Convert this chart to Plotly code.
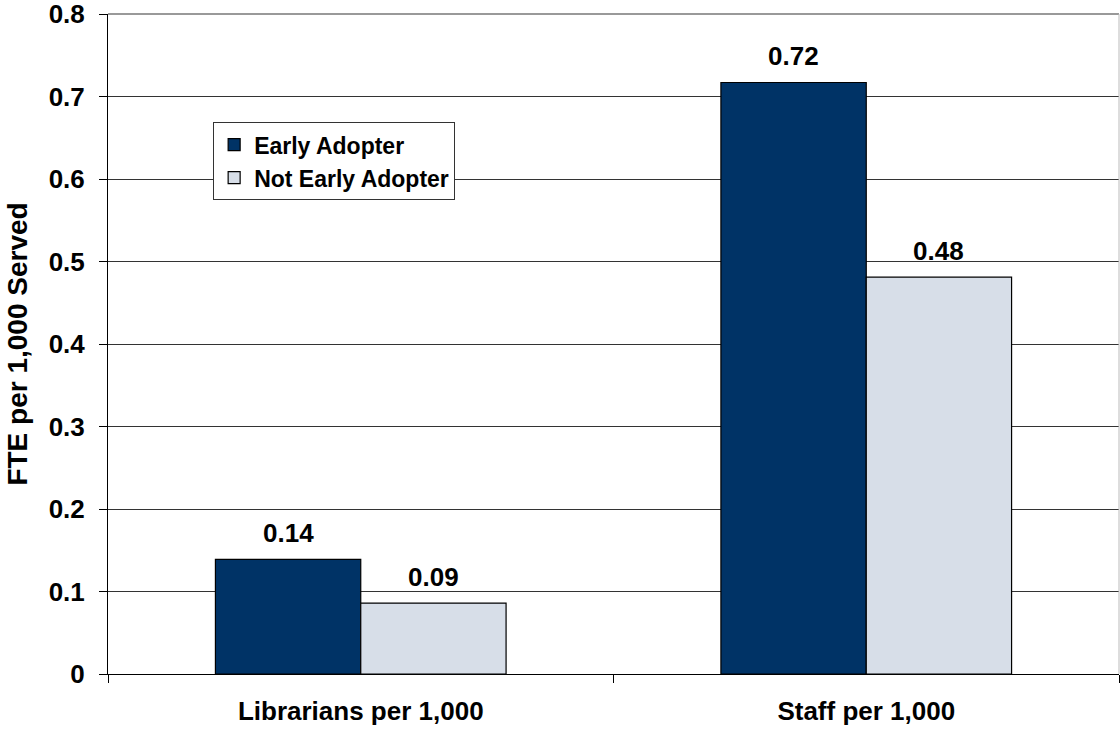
import plotly.graph_objects as go

categories = ["Librarians per 1,000", "Staff per 1,000"]
early_adopter = [0.139, 0.717]
not_early_adopter = [0.086, 0.481]
series_names = ["Early Adopter", "Not Early Adopter"]
y_ticks = [0, 0.1, 0.2, 0.3, 0.4, 0.5, 0.6, 0.7, 0.8]
y_tick_labels = ["0", "0.1", "0.2", "0.3", "0.4", "0.5", "0.6", "0.7", "0.8"]

FONT = "Liberation Sans, Arial, sans-serif"
BARGAP = 0.425
half = (1 - BARGAP) / 4  # offset of each bar centre from the category centre

fig = go.Figure()
fig.add_trace(go.Bar(x=categories, y=early_adopter, name=series_names[0],
                     marker=dict(color="#003366", line=dict(color="#000000", width=1.2))))
fig.add_trace(go.Bar(x=categories, y=not_early_adopter, name=series_names[1],
                     marker=dict(color="#d7dee8", line=dict(color="#000000", width=1.2))))

# value labels above bars
annotations = []
for i, v in enumerate(early_adopter):
    annotations.append(dict(x=i - half, y=v, text="%.2f" % v, showarrow=False,
                            yanchor="bottom", yshift=9, font=dict(size=26)))
for i, v in enumerate(not_early_adopter):
    annotations.append(dict(x=i + half, y=v, text="%.2f" % v, showarrow=False,
                            yanchor="bottom", yshift=9, font=dict(size=26)))

fig.update_layout(
    width=1120, height=731,
    margin=dict(l=108, r=1, t=14, b=57),
    paper_bgcolor="white", plot_bgcolor="white",
    font=dict(family=FONT, size=24, color="#000000", weight="bold"),
    barmode="group", bargap=BARGAP, bargroupgap=0,
    showlegend=True,
    legend=dict(x=0.104, y=0.836, xanchor="left", yanchor="top",
                bgcolor="white", bordercolor="#333333", borderwidth=1,
                font=dict(size=23), tracegroupgap=0),
    annotations=annotations,
    shapes=[dict(type="line", xref="paper", yref="paper", x0=0, x1=1, y0=1, y1=1,
                 line=dict(color="#999999", width=2)),
            dict(type="line", xref="paper", yref="paper", x0=1, x1=1, y0=0, y1=1,
                 line=dict(color="#bbbbbb", width=1))],
)
fig.update_xaxes(showline=True, linecolor="#000000", linewidth=1, automargin=False,
                 ticks="outside", tickson="boundaries", ticklen=8, tickcolor="#000000",
                 ticklabelstandoff=14, tickfont=dict(size=26), showgrid=False)
fig.update_yaxes(range=[0, 0.8], tickvals=y_ticks, ticktext=y_tick_labels,
                 showline=True, linecolor="#000000", linewidth=1, automargin=False,
                 ticks="outside", ticklen=8, tickcolor="#000000", ticklabelstandoff=9,
                 ticklabeloverflow="allow",
                 showgrid=True, gridcolor="#333333", gridwidth=1,
                 tickfont=dict(size=26),
                 title=dict(text="FTE per 1,000 Served", font=dict(size=28), standoff=12))

# drop the default 8px page margin so the figure fills the window exactly
fig.write_html("out.html", config={"displayModeBar": False},
               post_script="document.body.style.margin='0';document.body.style.overflow='hidden';")
